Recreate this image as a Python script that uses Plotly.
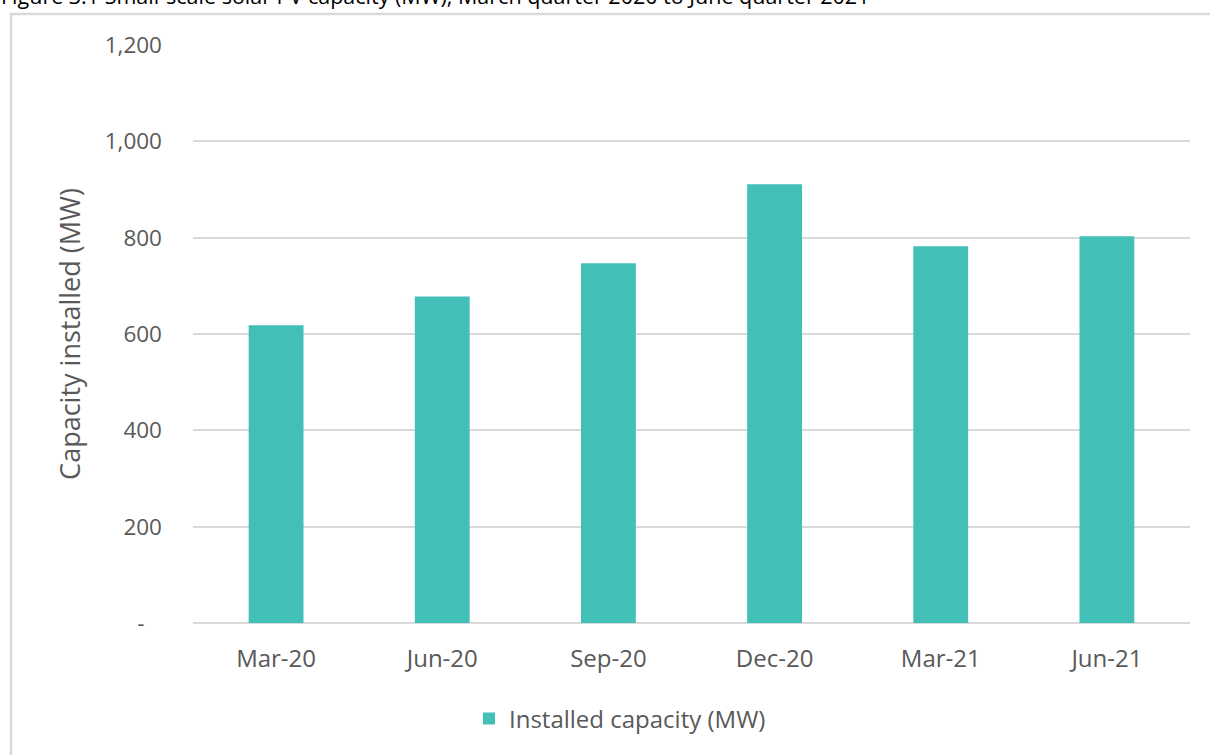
import plotly.graph_objects as go

categories = ["Mar-20", "Jun-20", "Sep-20", "Dec-20", "Mar-21", "Jun-21"]
capacity_mw = [618, 678, 747, 911, 782, 803]
series_name = "Installed capacity (MW)"
y_tick_vals = [0, 200, 400, 600, 800, 1000, 1200]
y_tick_text = ["-\u00a0\u00a0\u00a0", "200", "400", "600", "800", "1,000", "1,200"]
title_text = "Figure 3.1 Small-scale solar PV capacity (MW), March quarter 2020 to June quarter 2021"

W, H = 1210, 755
L, R, T, B = 193, 20, 45, 132
pw, ph = W - L - R, H - T - B

def px_x(x):
    return (x - L) / pw

def px_y(y):
    return (H - B - y) / ph

FONT = "Open Sans"
GREY = "#595959"

fig = go.Figure()
fig.add_trace(go.Bar(
    x=categories, y=capacity_mw, name=series_name,
    marker=dict(color="#42BFB7", line=dict(width=0)),
    width=0.33,
))

fig.update_layout(
    width=W, height=H,
    margin=dict(l=L, r=R, t=T, b=B, autoexpand=False),
    paper_bgcolor="white", plot_bgcolor="white",
    font=dict(family=FONT, color=GREY, size=22),
    showlegend=True,
    legend=dict(
        orientation="h", x=px_x(620), xanchor="center",
        y=px_y(719), yanchor="middle",
        font=dict(family=FONT, size=24, color=GREY),
        itemwidth=30,
    ),
    xaxis=dict(
        showgrid=False, showline=False, zeroline=False,
        tickfont=dict(family=FONT, size=24, color=GREY),
        ticklabelstandoff=19,
    ),
    yaxis=dict(
        range=[0, 1200], tickvals=y_tick_vals, ticktext=y_tick_text,
        showgrid=True, gridcolor="#d9d9d9", gridwidth=2,
        zeroline=True, zerolinecolor="#d9d9d9", zerolinewidth=2,
        showline=False,
        tickfont=dict(family=FONT, size=22.5, color=GREY),
        ticklabelstandoff=30,
        title=dict(text="Capacity installed (MW)", standoff=16,
                   font=dict(family=FONT, size=27, color=GREY)),
    ),
    bargap=0.67,
)

# outer chart border (left and top visible)
fig.add_shape(type="rect", xref="paper", yref="paper",
              x0=px_x(11), x1=px_x(1225), y0=px_y(790), y1=px_y(14),
              line=dict(color="#d9d9d9", width=2.5), fillcolor="rgba(0,0,0,0)",
              layer="below")

fig.add_annotation(
    text=title_text, xref="paper", yref="paper",
    x=px_x(-1), y=px_y(12), xanchor="left", yanchor="bottom",
    showarrow=False, font=dict(family=FONT, size=21.5, color="black"),
)

fig.write_html("out.html")
